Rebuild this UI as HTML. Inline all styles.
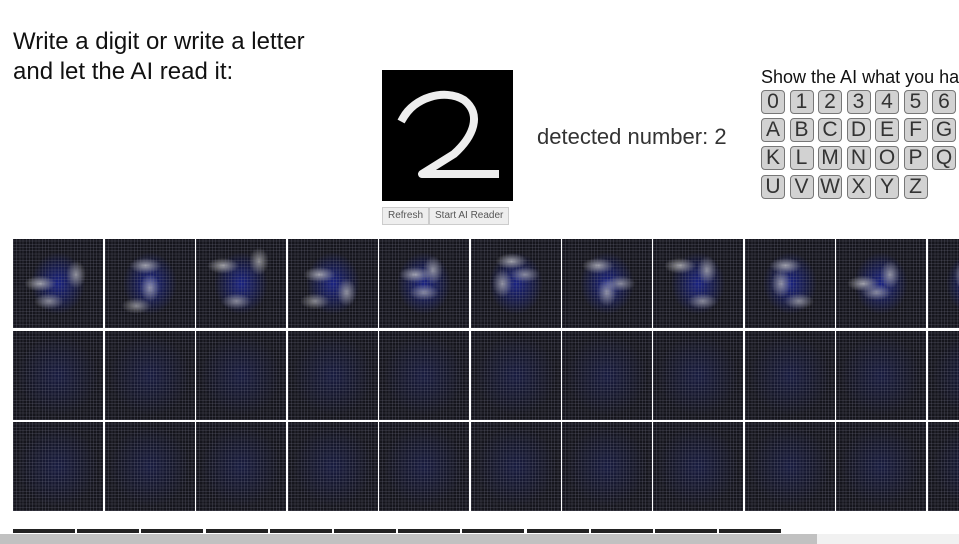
<!DOCTYPE html>
<html><head><meta charset="utf-8">
<style>
html,body{margin:0;width:959px;height:544px;overflow:hidden;background:#fff}
body{font-family:"Liberation Sans",sans-serif;position:relative}
#wrap{position:absolute;left:0;top:0;width:959px;height:544px;overflow:hidden}
.title{position:absolute;left:13px;top:27px;font-size:24px;line-height:30px;color:#111}
#canvas{position:absolute;left:382px;top:70px;width:131px;height:131px;background:#000}
.btns{position:absolute;left:382px;top:207px;display:flex}
.btns div{font-size:10px;color:#555;background:#eee;border:1px solid #ccc;padding:3px 5px;height:10px;line-height:10px}
#det{position:absolute;left:537px;top:124px;font-size:22px;color:#333}
#show{position:absolute;left:761px;top:67px;font-size:18px;color:#111;white-space:nowrap}
.key{position:absolute;width:22px;height:22px;border:1px solid #777;border-radius:4px;background:#d2d2d2;font-size:21px;line-height:22px;text-align:center;color:#333}
.cell{position:absolute;width:90px;height:89px;background-color:#15151c}
.bar{position:absolute;top:529px;height:4px;background:#222;width:62px}
</style></head><body><div id="wrap">
<div class="title">Write a digit or write a letter<br>and let the AI read it:</div>
<div id="canvas">
<svg width="131" height="131"><path d="M21,48 C32,28 62,18 82,30 C100,44 92,66 72,84 L40,104 L113,104" fill="none" stroke="#eee" stroke-width="8" stroke-linecap="square" stroke-linejoin="round"/></svg>
</div>
<div class="btns"><div>Refresh</div><div>Start AI Reader</div></div>
<div id="det">detected number: 2</div>
<div id="show">Show the AI what you have</div>
<div id="keys"></div>
<div id="grid"></div>
<div id="bars"></div>
<div style="position:absolute;left:0;top:534px;width:959px;height:10px;background:#f1f1f1"></div>
<div style="position:absolute;left:0;top:534px;width:817px;height:10px;background:#c1c1c1"></div>
</div>
<script>
const rows=["0123456","ABCDEFG","KLMNOPQ","UVWXYZ"];
const rowY=[90,118,146,175];
const K=document.getElementById('keys');
rows.forEach((r,ri)=>{[...r].forEach((ch,ci)=>{const d=document.createElement('div');d.className='key';d.textContent=ch;d.style.left=(761+ci*28.5)+'px';d.style.top=rowY[ri]+'px';


K.appendChild(d);});});
const G=document.getElementById('grid');
const colX=[13,105,196,288,379,471,562,653,745,836,928];
const rowYs=[239,331,422];
const blobs=[[30,50,70,40,40,70],[45,30,50,55,35,75],[30,30,70,25,45,70],[35,40,65,60,30,70],[40,40,60,35,50,60],[45,25,35,50,60,40],[40,30,50,60,65,50],[30,30,60,35,55,70],[45,30,40,50,60,70],[30,50,60,40,45,60],[50,50,40,40,60,60]];
colX.forEach((x,ci)=>{rowYs.forEach((y,ri)=>{const c=document.createElement('div');c.className='cell';c.style.left=x+'px';c.style.top=y+'px';
const grid='repeating-linear-gradient(90deg,rgba(120,120,140,.22) 0 1px,transparent 1px 3.2px),repeating-linear-gradient(0deg,rgba(120,120,140,.22) 0 1px,transparent 1px 3.2px)';
let bg;
if(ri===0){const b=blobs[ci];
bg=grid+`,radial-gradient(ellipse 16px 8px at ${b[0]}% ${b[1]}%,rgba(210,210,210,.75),transparent),radial-gradient(ellipse 10px 14px at ${b[2]}% ${b[3]}%,rgba(200,200,200,.7),transparent),radial-gradient(ellipse 15px 8px at ${b[4]}% ${b[5]}%,rgba(200,200,200,.65),transparent),radial-gradient(ellipse 30% 35% at 50% 50%,rgba(30,45,200,.6),transparent)`;}
else bg=grid+',radial-gradient(ellipse 45% 45% at 50% 50%,rgba(30,40,130,.35),transparent)';
c.style.background=bg+',#15151c';


G.appendChild(c);});});
const B=document.getElementById('bars');
for(let i=0;i<12;i++){const b=document.createElement('div');b.className='bar';b.style.left=(13+i*64.2)+'px';


B.appendChild(b);}
</script>
</body></html>
